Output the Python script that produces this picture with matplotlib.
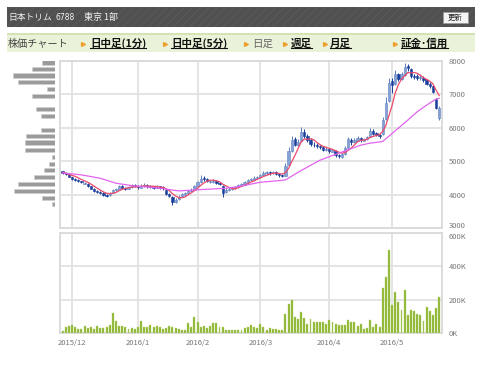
import matplotlib
matplotlib.use('Agg')
import matplotlib.pyplot as plt
from matplotlib.patches import Rectangle, FancyBboxPatch
from matplotlib.lines import Line2D
from matplotlib.transforms import offset_copy
import pandas as pd

plt.rcParams['font.family'] = ['Noto Sans CJK JP', 'DejaVu Sans']
plt.rcParams['hatch.linewidth'] = 0.6

# ---- data (daily, 2015/11/26 - 2016/5/24) ----
opens = [4700, 4650, 4610, 4520, 4460, 4440, 4400, 4330, 4320, 4250,
         4170, 4120, 4060, 4050, 3990, 3980, 4050, 4130, 4150, 4250,
         4200, 4170, 4220, 4290, 4260, 4200, 4270, 4300, 4260, 4240,
         4200, 4250, 4220, 4150, 4020, 3920, 3790, 3860, 3950, 4000,
         4060, 4100, 4150, 4270, 4380, 4500, 4460, 4380, 4390, 4420,
         4360, 4250, 4070, 4150, 4170, 4200, 4230, 4290, 4300, 4380,
         4430, 4450, 4510, 4520, 4580, 4650, 4670, 4640, 4680, 4620,
         4580, 4560, 4900, 5300, 5650, 5480, 5600, 5880, 5760, 5640,
         5500, 5480, 5460, 5430, 5330, 5380, 5290, 5320, 5200, 5140,
         5220, 5400, 5640, 5560, 5610, 5690, 5610, 5660, 5730, 5900,
         5830, 5760, 5800, 6250, 6800, 7400, 7300, 7600, 7450, 7580,
         7850, 7760, 7560, 7540, 7480, 7500, 7430, 7320, 7240, 6850,
         6300]
highs = [4720, 4680, 4630, 4540, 4500, 4470, 4420, 4380, 4340, 4270,
         4190, 4140, 4100, 4070, 4010, 4080, 4170, 4200, 4290, 4280,
         4230, 4250, 4320, 4310, 4280, 4320, 4340, 4320, 4290, 4270,
         4290, 4270, 4250, 4170, 4060, 3960, 3900, 3980, 4050, 4090,
         4130, 4200, 4300, 4420, 4600, 4560, 4500, 4450, 4480, 4450,
         4390, 4280, 4190, 4220, 4240, 4270, 4320, 4350, 4420, 4470,
         4500, 4550, 4560, 4620, 4700, 4720, 4700, 4720, 4700, 4650,
         4620, 4950, 5420, 5740, 5720, 5650, 6020, 5950, 5800, 5680,
         5560, 5530, 5500, 5460, 5420, 5400, 5380, 5340, 5230, 5260,
         5460, 5720, 5680, 5680, 5760, 5720, 5700, 5760, 5980, 5950,
         5880, 5800, 6330, 6920, 7500, 7480, 7720, 7650, 7680, 7950,
         7920, 7800, 7620, 7600, 7620, 7540, 7460, 7360, 7280, 6900,
         6640]
lows = [4620, 4590, 4520, 4440, 4420, 4390, 4350, 4310, 4240, 4160,
        4090, 4050, 4020, 3960, 3940, 3970, 4040, 4110, 4140, 4170,
        4150, 4160, 4210, 4220, 4180, 4190, 4240, 4200, 4190, 4180,
        4190, 4160, 4150, 3990, 3920, 3690, 3760, 3840, 3920, 3980,
        4030, 4080, 4130, 4250, 4360, 4420, 4370, 4340, 4360, 4320,
        4290, 3930, 4040, 4110, 4140, 4170, 4210, 4250, 4280, 4350,
        4400, 4420, 4470, 4500, 4560, 4600, 4600, 4610, 4580, 4540,
        4520, 4550, 4880, 5280, 5450, 5430, 5580, 5680, 5560, 5450,
        5420, 5400, 5370, 5300, 5300, 5260, 5270, 5140, 5100, 5110,
        5200, 5380, 5500, 5540, 5590, 5580, 5590, 5640, 5710, 5780,
        5740, 5700, 5780, 6230, 6780, 7050, 7280, 7400, 7420, 7550,
        7700, 7480, 7450, 7420, 7440, 7380, 7280, 7200, 7040, 6560,
        6230]
closes = [4660, 4620, 4540, 4470, 4450, 4420, 4380, 4340, 4260, 4180,
          4110, 4080, 4050, 3990, 3970, 4060, 4140, 4160, 4250, 4200,
          4180, 4230, 4280, 4250, 4220, 4270, 4290, 4250, 4230, 4210,
          4240, 4200, 4190, 4020, 3950, 3780, 3850, 3940, 4010, 4060,
          4100, 4150, 4260, 4380, 4480, 4460, 4420, 4400, 4420, 4360,
          4330, 4060, 4150, 4180, 4200, 4240, 4290, 4300, 4380, 4430,
          4460, 4500, 4520, 4580, 4640, 4660, 4640, 4670, 4620, 4580,
          4560, 4850, 5300, 5620, 5500, 5580, 5860, 5750, 5620, 5520,
          5480, 5450, 5420, 5350, 5380, 5300, 5330, 5200, 5150, 5220,
          5400, 5650, 5560, 5620, 5680, 5620, 5650, 5720, 5900, 5820,
          5780, 5750, 6220, 6750, 7350, 7280, 7620, 7450, 7600, 7820,
          7780, 7560, 7520, 7480, 7520, 7420, 7320, 7250, 7070, 6600,
          6580]
# volume in thousands of shares
volumes = [14, 36, 40, 50, 36, 26, 26, 44, 30, 36, 26, 44, 30, 30, 34, 48, 120, 70, 44, 40,
           36, 26, 32, 26, 36, 74, 34, 38, 48, 34, 40, 34, 26, 32, 44, 36, 28, 26, 18, 20,
           58, 38, 96, 66, 38, 40, 30, 40, 58, 60, 34, 38, 20, 20, 20, 20, 20,
           20, 30, 36, 46, 34, 30, 54, 36, 20, 30, 26, 24, 16, 20,
           116, 176, 198,
           98, 82, 124, 90, 56, 86, 68, 68, 68, 66, 52, 80, 68, 54, 46, 46, 50, 80, 66, 64,
           42, 54, 24, 28, 78, 38, 54, 36,
           268, 338, 500,
           168, 248, 188, 140, 260, 110, 136, 132, 116, 108, 74, 156, 132, 110, 150, 216]

# 25 day moving average (day index, price)
ma25_idx = [0, 3, 6, 12, 17, 22, 31, 37, 42, 52, 56, 63, 68, 71, 76, 82, 88, 95, 98,
            102, 105, 110, 113, 116, 119, 120]
ma25_val = [4650, 4620, 4590, 4490, 4340, 4270, 4190, 4110, 4140, 4190, 4240, 4370, 4410,
            4440, 4720, 5030, 5240, 5480, 5540, 5590, 5830, 6230, 6480, 6680, 6860, 6880]

month_idx = [3, 24, 43, 63, 85, 105]
month_labels = ['2015/12', '2016/1', '2016/2', '2016/3', '2016/4', '2016/5']

# price-band volume (left side)
band_prices = [7960, 7760, 7560, 7370, 7160, 6950, 6560, 6350, 5930, 5750,
               5550, 5340, 5130, 4920, 4740, 4530, 4320, 4110, 3900, 3720]
band_sizes = [13, 23, 42, 37, 8, 23, 19, 14, 14, 29, 30, 30, 3, 6, 11, 21, 37, 41, 13, 3]

W, H = 480, 365


def fx(x):
    return x / W


def fy(y):
    return 1 - y / H


fig = plt.figure(figsize=(4.8, 3.65), dpi=100)

# ---- header ----
fig.patches.append(Rectangle((fx(7), fy(27)), 468 / W, 20 / H, transform=fig.transFigure,
                             facecolor='#505050', edgecolor='#5c5c5c', hatch='////', lw=0))
fig.text(fx(8), fy(17.5), '日本トリム', color='#f2f2f2', fontsize=6.3, va='center')
fig.text(fx(56), fy(17.5), '6788', color='#f2f2f2', fontsize=5.5, va='center',
         family='DejaVu Sans')
fig.text(fx(84), fy(17.5), '東京 1部', color='#f2f2f2', fontsize=6.5, va='center')
fig.patches.append(FancyBboxPatch((fx(443), fy(23)), 25 / W, 11 / H, transform=fig.transFigure,
                                  boxstyle='square,pad=0', facecolor='#f4f4f4',
                                  edgecolor='#9a9a9a', lw=0.6))
fig.text(fx(455.5), fy(17.5), '更新', color='#222222', fontsize=5.3, va='center', ha='center')

# ---- navigation bar ----
fig.patches.append(Rectangle((fx(7), fy(52)), 468 / W, 19 / H, transform=fig.transFigure,
                             facecolor='#eaf3d9', lw=0))
fig.patches.append(Rectangle((fx(7), fy(35)), 468 / W, 2 / H, transform=fig.transFigure,
                             facecolor='#d3e4b2', lw=0))
fig.text(fx(8), fy(43.5), '株価チャート', color='#444444', fontsize=7.3, va='center')

nav = [(83, 90, '日中足(1分)', True), (165, 171, '日中足(5分)', True), (246, 252, '日足', False),
       (285, 291, '週足', True), (325, 330, '月足', True), (395, 401, '証金･信用', True)]
links = []
for tx, lx, label, link in nav:
    fig.add_artist(Line2D([fx(tx)], [fy(43.5)], marker='>', markersize=2.8, color='#f0a030',
                          transform=fig.transFigure))
    if link:
        t = fig.text(fx(lx), fy(43.5), label, color='#111111', fontsize=7.6, va='center',
                     fontweight='bold')
        links.append(t)
    else:
        fig.text(fx(lx), fy(43.5), label, color='#666666', fontsize=7.6, va='center')

# ---- price chart ----
ax = fig.add_axes([fx(60), fy(228), 382 / W, 167 / H])
idx = list(range(len(closes)))
face = ['#86a2d4' if c >= o else '#1a3f9c' for o, c in zip(opens, closes)]
edge = ['#5d7fc2' if c >= o else '#1a3f9c' for o, c in zip(opens, closes)]
ax.vlines(idx, lows, highs, colors=edge, lw=0.7, zorder=3)
bottoms = [min(o, c) for o, c in zip(opens, closes)]
heights = [max(abs(c - o), 20) for o, c in zip(opens, closes)]
ax.bar(idx, heights, bottom=bottoms, width=0.72, color=face, edgecolor=edge, lw=0.4, zorder=4)

ma5 = pd.Series(closes).rolling(5, min_periods=1).mean()
ax.plot(idx, ma5, color='#ee4a6a', lw=0.9, zorder=5)
ax.plot(ma25_idx, ma25_val, color='#e264f0', lw=0.9, zorder=5)

ax.set_xlim(-0.83, 120.9)
ax.set_ylim(3000, 8000)
ax.set_xticks(month_idx)
ax.set_xticklabels([])
ax.set_yticks([3000, 4000, 5000, 6000, 7000, 8000])
ax.yaxis.tick_right()
ax.tick_params(length=0, labelsize=5.5, labelcolor='#777777', pad=5)
ax.grid(color='#e2e2e2', lw=1.3, zorder=0)
for s in ax.spines.values():
    s.set_color('#d9d9d9')
    s.set_linewidth(1.3)

# ---- price band volume ----
hx = fig.add_axes([fx(10), fy(228), 45 / W, 167 / H])
hx.barh(band_prices, band_sizes, height=140, color='#9b9b9b', edgecolor='#d0d0d0', lw=0.5)
hx.set_xlim(45, 0)
hx.set_ylim(3000, 8000)
hx.axis('off')

# ---- volume chart ----
vx = fig.add_axes([fx(60), fy(333), 382 / W, 100 / H])
vx.bar(idx, [v * 1000 for v in volumes], width=0.62, color='#8ab42e', edgecolor='#b7d477',
       lw=0.3, zorder=3)
vx.set_xlim(-0.83, 120.9)
vx.set_ylim(0, 600000)
vx.set_yticks([0, 200000, 400000, 600000])
vx.set_yticklabels(['0K', '200K', '400K', '600K'])
vx.set_xticks(month_idx)
vx.set_xticklabels(month_labels)
vx.yaxis.tick_right()
vx.tick_params(length=0, labelsize=5.5, labelcolor='#777777', pad=5)
vx.tick_params(axis='x', pad=4)
vx.grid(color='#e2e2e2', lw=1.3, zorder=0)
for s in vx.spines.values():
    s.set_color('#d9d9d9')
    s.set_linewidth(1.3)

# the "3000" and "600K" labels sit on top of each other; pull them apart a little
fig.canvas.draw()
lab3000 = ax.get_yticklabels()[0]
lab3000.set_transform(offset_copy(lab3000.get_transform(), fig=fig, y=2.5, units='points'))
lab600 = vx.get_yticklabels()[-1]
lab600.set_transform(offset_copy(lab600.get_transform(), fig=fig, y=-2.5, units='points'))

# underline the link labels
r = fig.canvas.get_renderer()
inv = fig.transFigure.inverted()
for t in links:
    bb = t.get_window_extent(r)
    (x0, y0), (x1, _) = inv.transform([(bb.x0, bb.y0 + 1), (bb.x1, bb.y0 + 1)])
    fig.add_artist(Line2D([x0, x1], [y0, y0], color='#111111', lw=0.8,
                          transform=fig.transFigure))

fig.savefig('out.png', dpi=100)
